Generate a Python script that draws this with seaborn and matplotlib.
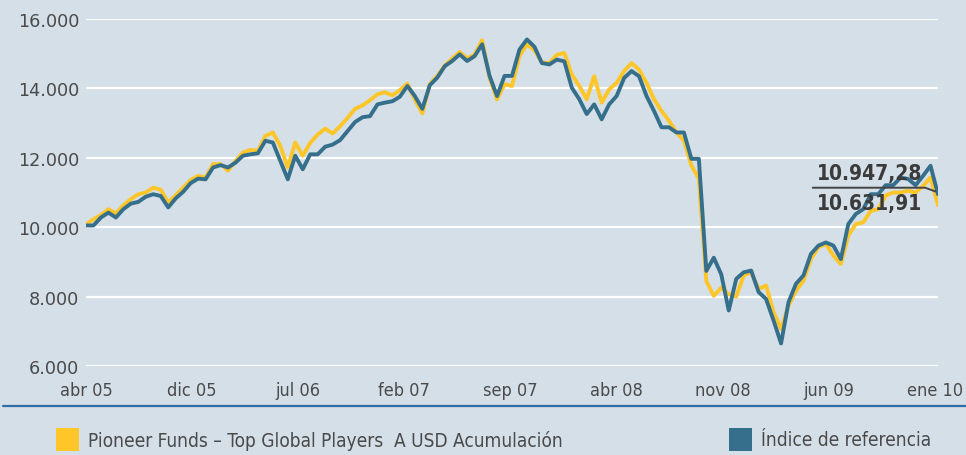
import numpy as np
import pandas as pd
import matplotlib
matplotlib.use("Agg")
import matplotlib.pyplot as plt
import seaborn as sns
from matplotlib.patches import Rectangle
from matplotlib.lines import Line2D

# valores (datos quincenales, abr 05 - ene 10)
fondo = [10080, 10230, 10350, 10520, 10400, 10630, 10810, 10950, 11000, 11140,
         11080, 10710, 10920, 11140, 11360, 11480, 11430, 11820, 11820, 11630,
         11910, 12150, 12230, 12200, 12630, 12730, 12340, 11720, 12440, 12060,
         12430, 12670, 12840, 12700, 12910, 13150, 13410, 13510, 13660, 13830,
         13890, 13800, 13950, 14140, 13680, 13280, 14120, 14360, 14660, 14860,
         15050, 14860, 14980, 15390, 14310, 13680, 14120, 14070, 14930, 15270,
         15100, 14750, 14730, 14970, 15020, 14400, 14070, 13690, 14350, 13590,
         13970, 14160, 14500, 14730, 14540, 14160, 13690, 13350, 13070, 12730,
         12500, 11780, 11400, 8450, 8020, 8260, 8070, 8000, 8610, 8700,
         8220, 8320, 7550, 7070, 7740, 8170, 8460, 9080, 9420, 9520,
         9180, 8940, 9760, 10090, 10140, 10470, 10520, 10910, 11000, 11000,
         11050, 11000, 11190, 11430, 10631.91]

indice = [10050, 10050, 10280, 10420, 10280, 10520, 10680, 10730, 10880, 10950,
          10900, 10570, 10830, 11020, 11270, 11400, 11380, 11720, 11790, 11720,
          11860, 12060, 12100, 12130, 12490, 12440, 11910, 11380, 12060, 11670,
          12100, 12100, 12320, 12380, 12510, 12770, 13030, 13170, 13200, 13540,
          13590, 13630, 13760, 14070, 13780, 13410, 14090, 14310, 14640, 14790,
          14980, 14790, 14930, 15270, 14360, 13780, 14360, 14360, 15120, 15410,
          15200, 14730, 14690, 14830, 14780, 14020, 13690, 13260, 13540, 13110,
          13540, 13780, 14300, 14500, 14350, 13780, 13350, 12880, 12880, 12730,
          12730, 11970, 11970, 8740, 9120, 8640, 7600, 8510, 8700, 8750,
          8130, 7930, 7310, 6650, 7840, 8370, 8610, 9230, 9470, 9560,
          9470, 9080, 10090, 10380, 10520, 10950, 10950, 11210, 11210, 11430,
          11390, 11210, 11480, 11770, 10947.28]

meses = ["abr 05", "dic 05", "jul 06", "feb 07", "sep 07", "abr 08", "nov 08", "jun 09", "ene 10"]
y_ticks = [6000, 8000, 10000, 12000, 14000, 16000]
y_labels = ["6.000", "8.000", "10.000", "12.000", "14.000", "16.000"]

nombre_fondo = "Pioneer Funds \u2013 Top Global Players  A USD Acumulación"
nombre_indice = "Índice de referencia"

col_fondo = "#FFC629"
col_indice = "#356F8B"
fondo_bg = "#D5DFE7"
gris = "#4A4A4A"
estrecha = ["DejaVu Sans Condensed", "DejaVu Sans"]

df = pd.DataFrame({
    "t": list(range(len(fondo))) * 2,
    "valor": fondo + indice,
    "serie": [nombre_fondo] * len(fondo) + [nombre_indice] * len(indice),
})

sns.set_style("white", rc={"axes.facecolor": fondo_bg, "figure.facecolor": fondo_bg})
plt.rcParams["font.family"] = ["DejaVu Sans"]

fig = plt.figure(figsize=(9.66, 4.56), dpi=100)
ax = fig.add_axes([86 / 966, 89 / 456, 852 / 966, 347 / 456])

for y in y_ticks:
    ax.axhline(y, color="white", lw=1.6, zorder=1)

sns.lineplot(data=df, x="t", y="valor", hue="serie",
             palette=[col_fondo, col_indice], hue_order=[nombre_fondo, nombre_indice],
             lw=2.8, legend=False, ax=ax, zorder=3)

n = len(fondo) - 1
ax.set_xlim(0, n)
ax.set_ylim(6000, 16000)
ax.set_xticks(np.linspace(0, n - 0.4, len(meses)))
ax.set_xticklabels(meses, fontsize=13, color=gris, family=estrecha, fontstretch="condensed")
ax.set_yticks(y_ticks)
ax.set_yticklabels(y_labels, fontsize=12.7, color=gris)
ax.tick_params(axis="both", length=0)
ax.tick_params(axis="x", pad=11)
ax.tick_params(axis="y", pad=5)
ax.set_xlabel("")
ax.set_ylabel("")
sns.despine(ax=ax, left=True, bottom=True)

# valores finales
for yy, txt in [(0.5576, "10.947,28"), (0.4683, "10.631,91")]:
    ax.text(0.9195, yy, txt, transform=ax.transAxes, ha="center", va="center",
            fontsize=15, fontweight="bold", family=estrecha, fontstretch="condensed",
            color="#3B3B3B", zorder=5)
ax.add_line(Line2D([0.853, 0.985, 0.997], [0.5138, 0.5138, 0.503], transform=ax.transAxes,
                   color="#444444", lw=1.4, zorder=5))

# línea azul inferior
fig.add_artist(Line2D([3 / 966, 1.0], [1 - 406.5 / 456] * 2, transform=fig.transFigure,
                      color="#2F6FA6", lw=1.6))

# leyenda
fig.add_artist(Rectangle((56 / 966, 1 - 452 / 456), 23 / 966, 23 / 456,
                         transform=fig.transFigure, color=col_fondo, lw=0))
fig.text(88 / 966, 1 - 441 / 456, nombre_fondo, fontsize=13.7, color=gris, va="center",
         family=estrecha, fontstretch="condensed")
fig.add_artist(Rectangle((729 / 966, 1 - 452 / 456), 23 / 966, 23 / 456,
                         transform=fig.transFigure, color=col_indice, lw=0))
fig.text(761 / 966, 1 - 441 / 456, nombre_indice, fontsize=13.7, color=gris, va="center",
         family=estrecha, fontstretch="condensed")

fig.savefig("out.png", dpi=100, facecolor=fondo_bg)
